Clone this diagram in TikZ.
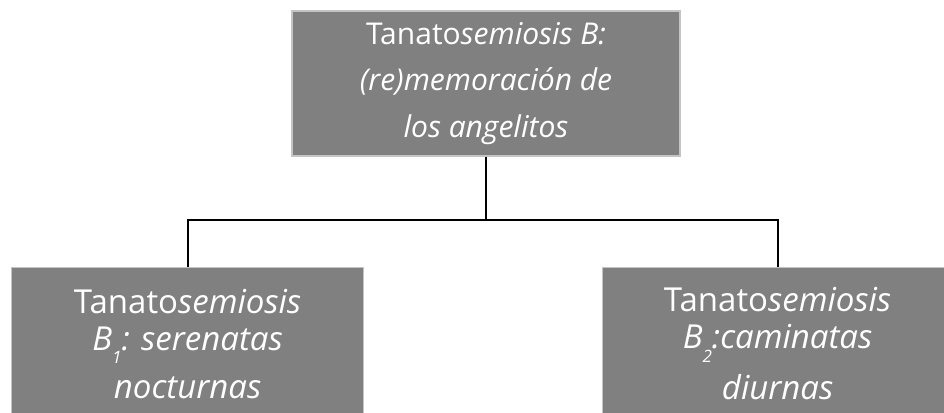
\documentclass[tikz,border=0pt]{standalone}
\usepackage{fontspec}
\setmainfont{Open Sans}
\definecolor{boxfill}{HTML}{808080}
\definecolor{boxedge}{HTML}{C4C4C4}
\tikzset{
  box/.style={rectangle, fill=boxfill, draw=boxedge, line width=1.2pt, text=white, align=center, inner sep=0pt},
  topfont/.style={font=\fontsize{30}{46.5}\selectfont},
  lowfont/.style={font=\fontsize{33}{37}\selectfont},
  conn/.style={draw=black, line width=2.2pt}
}
\newcommand{\sub}[1]{\raisebox{-0.75ex}{\fontsize{17}{17}\selectfont #1}}
\begin{document}
\begin{tikzpicture}[x=1pt,y=-1pt]
\useasboundingbox (0,0) rectangle (944,412);
\clip (0,0) rectangle (944,412);
\node[box, topfont, minimum width=388pt, minimum height=145pt] (top) at (486,83.5)
  {Tanato\textit{semiosis B:}\\ \textit{(re)memoración de}\\ \textit{los angelitos}};
\node[box, lowfont, minimum width=352pt, minimum height=152pt, anchor=north west] (left) at (11,267)
  {Tanato\textit{semiosis}\\ \textit{B\sub{1}: serenatas}\\[11pt] \textit{nocturnas}};
\node[box, lowfont, minimum width=350pt, minimum height=152pt, anchor=north west] (right) at (602,267)
  {Tanato\textit{semiosis}\\ \textit{B\sub{2}:caminatas}\\[11pt] \textit{diurnas}};
\coordinate (mid) at (486,220);
\draw[conn] (top.south) -- (mid);
\draw[conn] (left.north) |- (mid) -| (right.north);
\end{tikzpicture}
\end{document}
